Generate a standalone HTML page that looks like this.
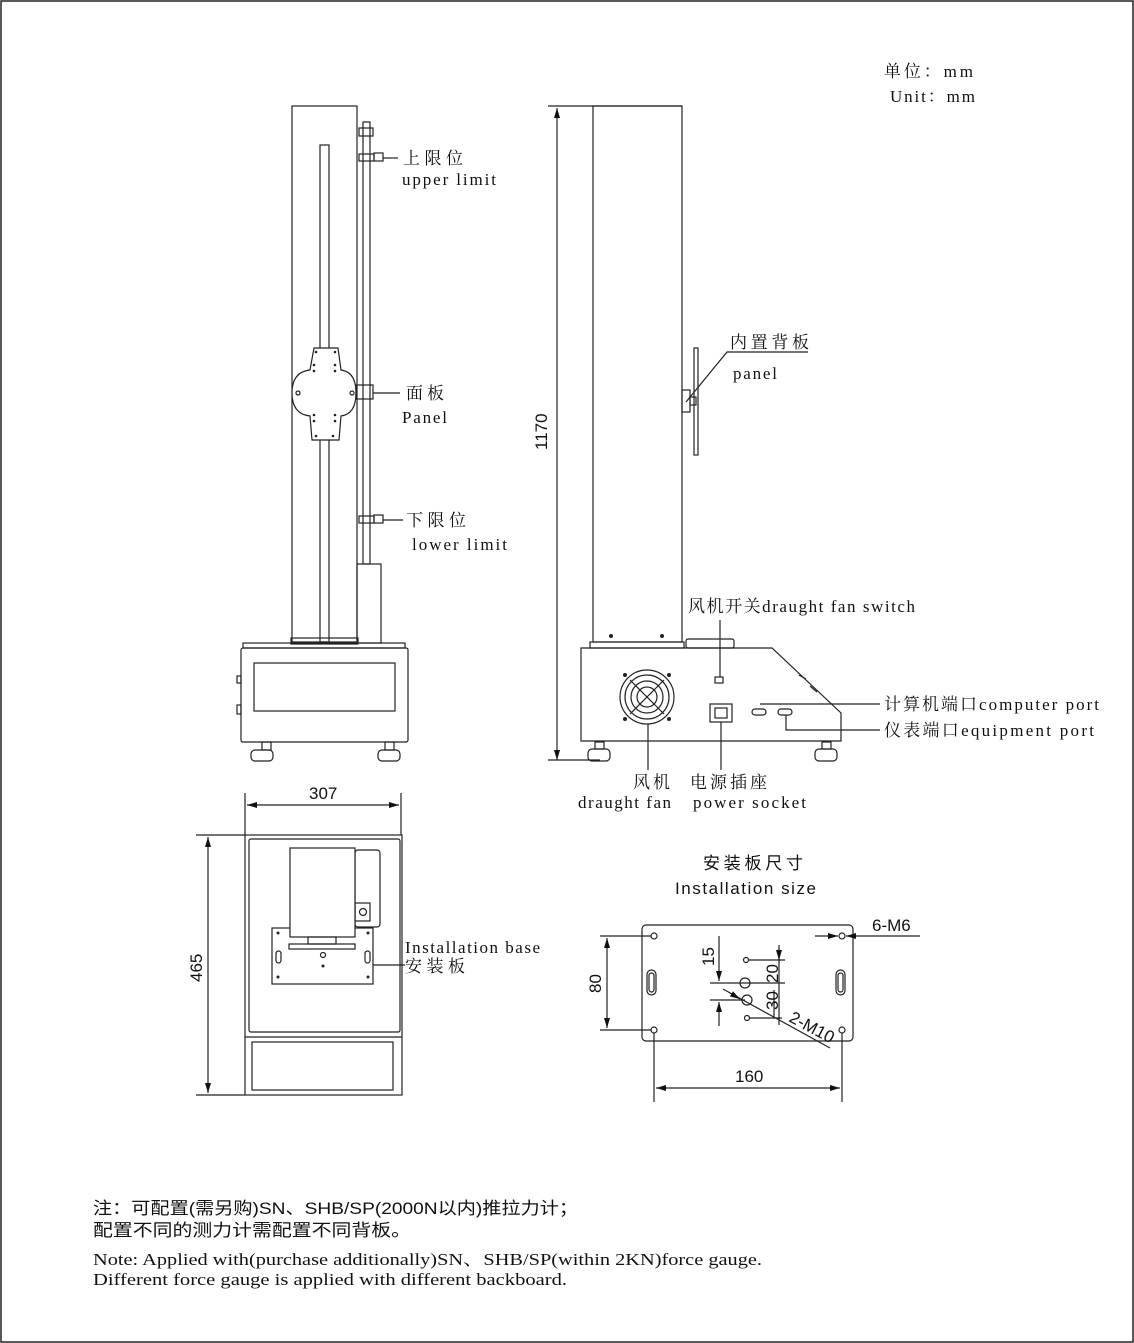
<!DOCTYPE html>
<html><head><meta charset="utf-8"><style>
html,body{margin:0;padding:0;background:#fff}
svg{display:block}
.s{font-family:"Liberation Serif","Noto Serif CJK SC",serif;font-size:17px;fill:#111}
.a{font-family:"Liberation Sans","Noto Sans CJK SC",sans-serif;font-size:17px;fill:#111}
</style></head><body>
<svg width="1134" height="1343" viewBox="0 0 1134 1343" xmlns="http://www.w3.org/2000/svg">
<defs>
<marker id="ar" viewBox="0 0 10 6" refX="10" refY="3" markerWidth="10" markerHeight="6" orient="auto-start-reverse" markerUnits="userSpaceOnUse"><path d="M0,0 L10,3 L0,6z" fill="#111"/></marker>
</defs>
<rect x="1" y="1" width="1132" height="1341" fill="none" stroke="#222" stroke-width="1.5"/>
<g fill="none" stroke="#222" stroke-width="1.2">
<rect x="292" y="106" width="65" height="536"/>
<rect x="320" y="145" width="9" height="497"/>
<rect x="363" y="122" width="7" height="442"/>
<rect x="359" y="128" width="14" height="8"/>
<rect x="359" y="154" width="15" height="7"/>
<rect x="374" y="153" width="9" height="8"/>
<line x1="383" y1="158" x2="398" y2="158"/>
<path d="M314,348 H338 L341,370 Q356,372 356,393 Q356,414 341,416 L339,440 H312 L310,416 Q292,414 292,393 Q292,372 310,370 Z" fill="#fff"/>
<rect x="356" y="385" width="17" height="14"/>
<line x1="373" y1="393" x2="400" y2="393"/>
<circle cx="298" cy="393" r="2"/><circle cx="352" cy="393" r="2"/>
<g fill="#222" stroke="none">
<circle cx="316" cy="352" r="1.3"/><circle cx="335" cy="352" r="1.3"/>
<circle cx="314" cy="365" r="1.3"/><circle cx="335" cy="365" r="1.3"/>
<circle cx="314" cy="371" r="1.3"/><circle cx="335" cy="371" r="1.3"/>
<circle cx="314" cy="415" r="1.3"/><circle cx="335" cy="415" r="1.3"/>
<circle cx="314" cy="421" r="1.3"/><circle cx="335" cy="421" r="1.3"/>
<circle cx="316" cy="436" r="1.3"/><circle cx="333" cy="436" r="1.3"/>
</g>
<rect x="359" y="516" width="15" height="7"/>
<rect x="374" y="515" width="9" height="8"/>
<line x1="383" y1="520" x2="403" y2="520"/>
<rect x="357" y="564" width="24" height="79"/>
<rect x="291" y="638" width="67" height="6"/>
<rect x="243" y="643" width="162" height="5"/>
<rect x="241" y="648" width="167" height="94" rx="2"/>
<rect x="254" y="663" width="141" height="48"/>
<rect x="237" y="676" width="4" height="7"/>
<rect x="237" y="705" width="4" height="9"/>
<rect x="262" y="742" width="9" height="8"/><rect x="251" y="750" width="22" height="11" rx="4"/>
<rect x="385" y="742" width="9" height="8"/><rect x="378" y="750" width="22" height="11" rx="4"/>

<line x1="548" y1="106" x2="682" y2="106"/>
<line x1="557" y1="108" x2="557" y2="760" marker-start="url(#ar)" marker-end="url(#ar)"/>
<line x1="548" y1="760" x2="600" y2="760"/>
<rect x="593" y="106" width="89" height="536"/>
<rect x="694" y="348" width="4" height="107"/>
<rect x="682" y="390" width="8" height="22"/>
<rect x="690" y="397" width="6" height="8"/>
<polyline points="686,402 727,352 808,352"/>
<rect x="590" y="642" width="94" height="6"/>
<rect x="686" y="639" width="48" height="9" rx="2"/>
<path d="M581,648 H772 L841,713 V741 H581 Z"/>
<line x1="799" y1="675" x2="806" y2="679"/>
<line x1="810" y1="686" x2="817" y2="692"/>
<circle cx="647" cy="697" r="27"/><circle cx="647" cy="697" r="22"/><circle cx="647" cy="697" r="16"/><circle cx="647" cy="697" r="10"/>
<line x1="630" y1="680" x2="664" y2="714"/><line x1="664" y1="680" x2="630" y2="714"/>
<g fill="#222" stroke="none"><circle cx="625" cy="675" r="2"/><circle cx="669" cy="675" r="2"/><circle cx="625" cy="719" r="2"/><circle cx="669" cy="719" r="2"/><circle cx="611" cy="636" r="2"/><circle cx="662" cy="636" r="2"/></g>
<rect x="715" y="677" width="8" height="6"/>
<line x1="720" y1="620" x2="720" y2="677"/>
<rect x="710" y="704" width="22" height="18"/><rect x="715" y="708" width="12" height="10"/>
<rect x="752" y="709" width="14" height="6" rx="3"/>
<rect x="778" y="709" width="14" height="6" rx="3"/>
<line x1="760" y1="704" x2="880" y2="704"/>
<polyline points="786,715 786,730 880,730"/>
<line x1="648" y1="724" x2="648" y2="770"/>
<line x1="721" y1="722" x2="721" y2="770"/>
<rect x="595" y="742" width="9" height="7"/><rect x="588" y="749" width="22" height="12" rx="4"/>
<rect x="822" y="742" width="9" height="7"/><rect x="815" y="749" width="22" height="12" rx="4"/>

<line x1="245" y1="793" x2="245" y2="835"/><line x1="401" y1="793" x2="401" y2="835"/>
<line x1="247" y1="805" x2="399" y2="805" marker-start="url(#ar)" marker-end="url(#ar)"/>
<line x1="196" y1="835" x2="245" y2="835"/><line x1="196" y1="1095" x2="245" y2="1095"/>
<line x1="208" y1="837" x2="208" y2="1093" marker-start="url(#ar)" marker-end="url(#ar)"/>
<rect x="245" y="835" width="157" height="260"/>
<rect x="249" y="839" width="151" height="193" rx="2"/>
<line x1="245" y1="1037" x2="402" y2="1037"/>
<rect x="252" y="1042" width="141" height="48"/>
<rect x="355" y="850" width="25" height="77" rx="3"/>
<rect x="355" y="903" width="15" height="18"/><circle cx="363" cy="912" r="3.5"/>
<rect x="272" y="928" width="101" height="56"/>
<rect x="290" y="848" width="65" height="89" fill="#fff"/>
<rect x="308" y="937" width="28" height="7"/>
<rect x="289" y="944" width="66" height="5"/>
<rect x="276" y="951" width="5" height="12" rx="2.5"/><rect x="365" y="951" width="5" height="12" rx="2.5"/>
<circle cx="323" cy="955" r="2.5"/>
<g fill="#222" stroke="none"><circle cx="278" cy="933" r="1.5"/><circle cx="368" cy="933" r="1.5"/><circle cx="278" cy="977" r="1.5"/><circle cx="368" cy="977" r="1.5"/><circle cx="323" cy="966" r="1.5"/></g>
<line x1="373" y1="965" x2="405" y2="965"/>

<rect x="642" y="925" width="211" height="116" rx="4"/>
<circle cx="654" cy="936" r="3"/><circle cx="842" cy="936" r="3"/><circle cx="654" cy="1030" r="3"/><circle cx="842" cy="1030" r="3"/>
<rect x="647" y="970" width="9" height="25" rx="4.5"/><rect x="649" y="973" width="5" height="19" rx="2.5"/>
<rect x="836" y="970" width="9" height="25" rx="4.5"/><rect x="838" y="973" width="5" height="19" rx="2.5"/>
<circle cx="746" cy="960" r="2.5"/><circle cx="745" cy="983" r="5"/><circle cx="747" cy="1000" r="5"/><circle cx="747" cy="1018" r="2.5"/>
<line x1="600" y1="936" x2="651" y2="936"/><line x1="600" y1="1030" x2="651" y2="1030"/>
<line x1="607" y1="938" x2="607" y2="1028" marker-start="url(#ar)" marker-end="url(#ar)"/>
<line x1="654" y1="1033" x2="654" y2="1102"/><line x1="842" y1="1033" x2="842" y2="1102"/>
<line x1="656" y1="1088" x2="840" y2="1088" marker-start="url(#ar)" marker-end="url(#ar)"/>
<line x1="815" y1="936" x2="838" y2="936" marker-end="url(#ar)"/>
<line x1="920" y1="936" x2="846" y2="936" marker-end="url(#ar)"/>
<line x1="710" y1="983" x2="785" y2="983"/><line x1="710" y1="1000" x2="745" y2="1000"/>
<line x1="719" y1="936" x2="719" y2="981" marker-end="url(#ar)"/>
<line x1="719" y1="1026" x2="719" y2="1002" marker-end="url(#ar)"/>
<line x1="749" y1="960" x2="785" y2="960"/><line x1="749" y1="1018" x2="782" y2="1018"/>
<line x1="779" y1="945" x2="779" y2="1025"/>
<line x1="779" y1="960" x2="779" y2="948" marker-start="url(#ar)"/>
<line x1="774" y1="1017" x2="774" y2="990" />
<line x1="723" y1="989" x2="830" y2="1048"/>
<line x1="730" y1="993" x2="740" y2="999" marker-end="url(#ar)"/>
</g>

<text class="s" x="884" y="77" textLength="89" lengthAdjust="spacing">单位：mm</text>
<text class="s" x="890" y="102" textLength="85" lengthAdjust="spacing">Unit：mm</text>
<text class="s" x="403" y="164" textLength="60" lengthAdjust="spacing">上限位</text>
<text class="s" x="402" y="185" textLength="94" lengthAdjust="spacing">upper  limit</text>
<text class="s" x="406" y="399" textLength="38" lengthAdjust="spacing">面板</text>
<text class="s" x="402" y="423" textLength="45" lengthAdjust="spacing">Panel</text>
<text class="s" x="406" y="526" textLength="60" lengthAdjust="spacing">下限位</text>
<text class="s" x="412" y="550" textLength="95" lengthAdjust="spacing">lower  limit</text>
<text class="s" x="730" y="348" textLength="79" lengthAdjust="spacing">内置背板</text>
<text class="s" x="733" y="379" textLength="44" lengthAdjust="spacing">panel</text>
<text class="a" transform="translate(547,450) rotate(-90)">1170</text>
<text class="s" x="688" y="612" textLength="227" lengthAdjust="spacing">风机开关draught fan switch</text>
<text class="s" x="884" y="710" textLength="215" lengthAdjust="spacing">计算机端口computer port</text>
<text class="s" x="884" y="736" textLength="210" lengthAdjust="spacing">仪表端口equipment port</text>
<text class="s" x="633" y="788" textLength="37" lengthAdjust="spacing">风机</text>
<text class="s" x="578" y="808" textLength="93" lengthAdjust="spacing">draught fan</text>
<text class="s" x="690" y="788" textLength="77" lengthAdjust="spacing">电源插座</text>
<text class="s" x="693" y="808" textLength="113" lengthAdjust="spacing">power  socket</text>
<text class="a" x="309" y="799">307</text>
<text class="a" transform="translate(202,982) rotate(-90)">465</text>
<text class="s" x="405" y="953" textLength="135" lengthAdjust="spacing">Installation base</text>
<text class="s" x="405" y="972" textLength="60" lengthAdjust="spacing">安装板</text>
<text class="a" x="703" y="869" textLength="100" lengthAdjust="spacing">安装板尺寸</text>
<text class="a" x="675" y="894" textLength="141" lengthAdjust="spacing">Installation size</text>
<text class="a" x="872" y="931">6-M6</text>
<text class="a" transform="translate(601,993) rotate(-90)">80</text>
<text class="a" transform="translate(714,966) rotate(-90)">15</text>
<text class="a" transform="translate(778,983) rotate(-90)">20</text>
<text class="a" transform="translate(778,1010) rotate(-90)">30</text>
<text class="a" transform="translate(788,1021) rotate(28)">2-M10</text>
<text class="a" x="735" y="1082">160</text>
<text class="a" x="93" y="1214" textLength="485" lengthAdjust="spacingAndGlyphs">注：可配置(需另购)SN、SHB/SP(2000N以内)推拉力计；</text>
<text class="a" x="93" y="1236" textLength="318" lengthAdjust="spacingAndGlyphs">配置不同的测力计需配置不同背板。</text>
<text class="s" x="93" y="1265" textLength="669" lengthAdjust="spacingAndGlyphs">Note: Applied with(purchase additionally)SN、SHB/SP(within 2KN)force gauge.</text>
<text class="s" x="93" y="1285" textLength="474" lengthAdjust="spacingAndGlyphs">Different force gauge is  applied with different backboard.</text>
</svg>
</body></html>
